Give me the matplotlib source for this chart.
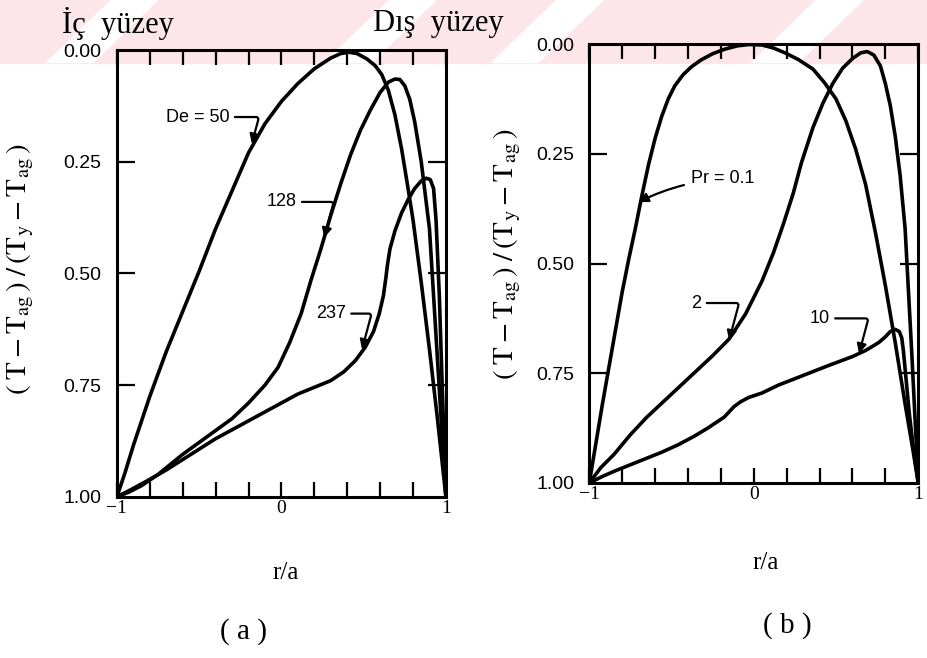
import matplotlib.pyplot as plt
import numpy as np

plt.rcParams['mathtext.fontset'] = 'stix'

# panel (a): De curves, (r/a, theta) pairs
de50_r = [-1.0, -0.95, -0.90, -0.80, -0.70, -0.60, -0.50, -0.40, -0.30, -0.20, -0.10, 0.0, 0.10,
          0.20, 0.30, 0.36, 0.41, 0.46, 0.52, 0.57, 0.61, 0.65, 0.69, 0.73, 0.77, 0.80, 0.85,
          0.90, 0.95, 1.0]
de50_t = [1.0, 0.945, 0.885, 0.775, 0.675, 0.585, 0.495, 0.40, 0.315, 0.23, 0.165, 0.115, 0.075,
          0.042, 0.018, 0.008, 0.005, 0.008, 0.02, 0.035, 0.055, 0.09, 0.145, 0.22, 0.31, 0.38, 0.52,
          0.67, 0.83, 1.0]

de128_r = [-1.0, -0.93, -0.85, -0.75, -0.60, -0.45, -0.30, -0.20, -0.10, -0.02, 0.05, 0.12, 0.18,
           0.24, 0.30, 0.36, 0.42, 0.48, 0.54, 0.60, 0.65, 0.69, 0.72, 0.75, 0.78, 0.81, 0.85,
           0.90, 0.95, 1.0]
de128_t = [1.0, 0.99, 0.975, 0.95, 0.905, 0.865, 0.825, 0.79, 0.75, 0.71, 0.655, 0.59, 0.515,
           0.445, 0.37, 0.30, 0.235, 0.18, 0.135, 0.095, 0.072, 0.065, 0.066, 0.08, 0.11, 0.16, 0.25,
           0.40, 0.70, 1.0]

de237_r = [-1.0, -0.92, -0.82, -0.70, -0.55, -0.40, -0.25, -0.10, 0.0, 0.10, 0.20, 0.30, 0.38,
           0.45, 0.51, 0.56, 0.595, 0.62, 0.635, 0.645, 0.66, 0.69, 0.73, 0.77, 0.81, 0.85, 0.88,
           0.905, 0.925, 0.94, 0.96, 0.98, 1.0]
de237_t = [1.0, 0.985, 0.965, 0.94, 0.905, 0.87, 0.84, 0.81, 0.79, 0.77, 0.755, 0.74, 0.72,
           0.695, 0.665, 0.63, 0.59, 0.55, 0.51, 0.48, 0.445, 0.405, 0.365, 0.335, 0.31, 0.293, 0.287,
           0.29, 0.31, 0.38, 0.55, 0.78, 1.0]

# panel (b): Pr curves
pr01_r = [-1.0, -0.96, -0.92, -0.88, -0.84, -0.80, -0.76, -0.72, -0.68, -0.64, -0.60, -0.56, -0.52,
          -0.48, -0.43, -0.38, -0.32, -0.25, -0.18, -0.10, -0.03, 0.05, 0.12, 0.19, 0.27, 0.36,
          0.43, 0.50, 0.56, 0.62, 0.68, 0.74, 0.80, 0.86, 0.92, 0.97, 1.0]
pr01_t = [1.0, 0.91, 0.82, 0.735, 0.65, 0.565, 0.49, 0.42, 0.345, 0.275, 0.215, 0.165, 0.125,
          0.095, 0.07, 0.052, 0.036, 0.022, 0.012, 0.004, 0.001, 0.002, 0.009, 0.02, 0.035, 0.057,
          0.088, 0.125, 0.175, 0.24, 0.32, 0.43, 0.55, 0.68, 0.82, 0.93, 1.0]

pr2_r = [-1.0, -0.93, -0.85, -0.75, -0.65, -0.55, -0.45, -0.35, -0.25, -0.15, -0.05, 0.05, 0.12,
         0.18, 0.24, 0.29, 0.36, 0.42, 0.48, 0.54, 0.60, 0.65, 0.69, 0.73, 0.77, 0.80, 0.83, 0.86,
         0.89, 0.92, 0.96, 1.0]
pr2_t = [1.0, 0.965, 0.935, 0.89, 0.85, 0.815, 0.78, 0.745, 0.71, 0.672, 0.615, 0.54, 0.475,
         0.41, 0.34, 0.27, 0.19, 0.135, 0.09, 0.055, 0.033, 0.02, 0.017, 0.025, 0.05, 0.09, 0.14, 0.21,
         0.30, 0.42, 0.70, 1.0]

pr10_r = [-1.0, -0.92, -0.84, -0.76, -0.66, -0.56, -0.46, -0.36, -0.28, -0.22, -0.18, -0.15, -0.12,
          -0.08, -0.03, 0.05, 0.15, 0.30, 0.45, 0.60, 0.68, 0.76, 0.80, 0.83, 0.86, 0.885, 0.90,
          0.91, 0.925, 0.945, 0.97, 1.0]
pr10_t = [1.0, 0.985, 0.972, 0.96, 0.945, 0.93, 0.913, 0.893, 0.875, 0.86, 0.85, 0.838, 0.826,
          0.815, 0.805, 0.795, 0.777, 0.755, 0.733, 0.712, 0.698, 0.68, 0.667, 0.655, 0.65, 0.655, 0.67,
          0.70, 0.76, 0.84, 0.92, 1.0]

y_ticks = [0.0, 0.25, 0.50, 0.75, 1.0]
y_labels = ['0.00', '0.25', '0.50', '0.75', '1.00']
x_ticks = [-1, 0, 1]
x_labels = ['\u22121', '0', '1']

ylab = r'$(\;\mathrm{T}-\mathrm{T}_{\mathrm{ag}}\,)\;/\,(\mathrm{T}_{\mathrm{y}}-\mathrm{T}_{\mathrm{ag}}\,)$'

fig = plt.figure(figsize=(9.28, 6.58), dpi=100)

# faint watermark strip at the top of the scan
fig.patches.append(plt.Rectangle((0, 0.905), 1, 0.095, transform=fig.transFigure,
                                 color='#fce6ea', zorder=-5))
for x0 in [0.12, 0.42, 0.60, 0.88]:
    fig.patches.append(plt.Polygon([[x0, 1.0], [x0 + 0.05, 1.0], [x0 - 0.02, 0.905], [x0 - 0.07, 0.905]],
                                   transform=fig.transFigure, color='white', zorder=-4))

ax_a = fig.add_axes([0.126, 0.245, 0.3545, 0.679])
ax_b = fig.add_axes([0.635, 0.266, 0.3545, 0.667])


def style(ax, xl, yl):
    ax.set_xlim(-1, 1)
    ax.set_ylim(1.0, 0.0)
    ax.patch.set_alpha(0)
    for s in ax.spines.values():
        s.set_linewidth(2.2)
    ax.set_xticks(np.arange(-1, 1.01, 0.2), minor=True)
    ax.set_xticks(x_ticks)
    ax.set_xticklabels(x_labels, fontfamily='Liberation Serif', fontsize=14)
    ax.set_yticks(y_ticks)
    ax.set_yticklabels(y_labels, fontfamily='Liberation Sans', fontsize=14)
    ax.tick_params(axis='x', which='both', direction='in', top=True, bottom=True,
                   length=11, width=1.6, pad=2)
    ax.tick_params(axis='y', direction='in', left=True, right=True,
                   length=13, width=1.6, pad=11)
    # no tick marks at the corners
    for t in [ax.yaxis.get_major_ticks()[0], ax.yaxis.get_major_ticks()[-1]]:
        t.tick1line.set_visible(False)
        t.tick2line.set_visible(False)
    ax.set_xlabel('r/a', fontfamily='Liberation Serif', fontsize=18)
    ax.xaxis.set_label_coords(*xl)
    ax.set_ylabel(ylab, fontsize=21)
    ax.yaxis.set_label_coords(*yl)


lw = 2.6
for r, t in [(de50_r, de50_t), (de128_r, de128_t), (de237_r, de237_t)]:
    ax_a.plot(r, t, color='black', lw=lw, solid_joinstyle='round', solid_capstyle='round')
style(ax_a, (0.514, -0.145), (-0.245, 0.51))

for r, t in [(pr01_r, pr01_t), (pr2_r, pr2_t), (pr10_r, pr10_t)]:
    ax_b.plot(r, t, color='black', lw=lw, solid_joinstyle='round', solid_capstyle='round')
style(ax_b, (0.535, -0.157), (-0.20, 0.52))

hook = dict(arrowstyle='-|>', color='black', lw=1.6, mutation_scale=14,
            connectionstyle='angle,angleA=0,angleB=75,rad=3', shrinkA=2, shrinkB=0)
lab = dict(fontfamily='Liberation Sans', fontsize=13, ha='center', va='center')

ax_a.annotate('De = 50', xy=(-0.18, 0.21), xytext=(-0.51, 0.15), arrowprops=hook, **lab)
ax_a.annotate('128', xy=(0.26, 0.42), xytext=(0.0, 0.34), arrowprops=hook, **lab)
ax_a.annotate('237', xy=(0.49, 0.67), xytext=(0.30, 0.59), arrowprops=hook, **lab)

ax_b.annotate('Pr = 0.1', xy=(-0.70, 0.36), xytext=(-0.19, 0.307),
              arrowprops=dict(arrowstyle='-|>', color='black', lw=1.6, mutation_scale=14,
                              connectionstyle='arc3,rad=0.1', shrinkA=3, shrinkB=0), **lab)
ax_b.annotate('2', xy=(-0.15, 0.675), xytext=(-0.35, 0.59), arrowprops=hook, **lab)
ax_b.annotate('10', xy=(0.64, 0.705), xytext=(0.40, 0.625), arrowprops=hook, **lab)

fig.text(0.127, 0.964, '\u0130\u00e7  y\u00fczey', fontfamily='Liberation Serif', fontsize=22,
         ha='center', va='center')
fig.text(0.472, 0.964, 'D\u0131\u015f  y\u00fczey', fontfamily='Liberation Serif', fontsize=22,
         ha='center', va='center')
fig.text(0.262, 0.04, '( a )', fontfamily='Liberation Serif', fontsize=21, ha='center', va='center')
fig.text(0.848, 0.05, '( b )', fontfamily='Liberation Serif', fontsize=21, ha='center', va='center')

fig.savefig('out.png', dpi=100)
